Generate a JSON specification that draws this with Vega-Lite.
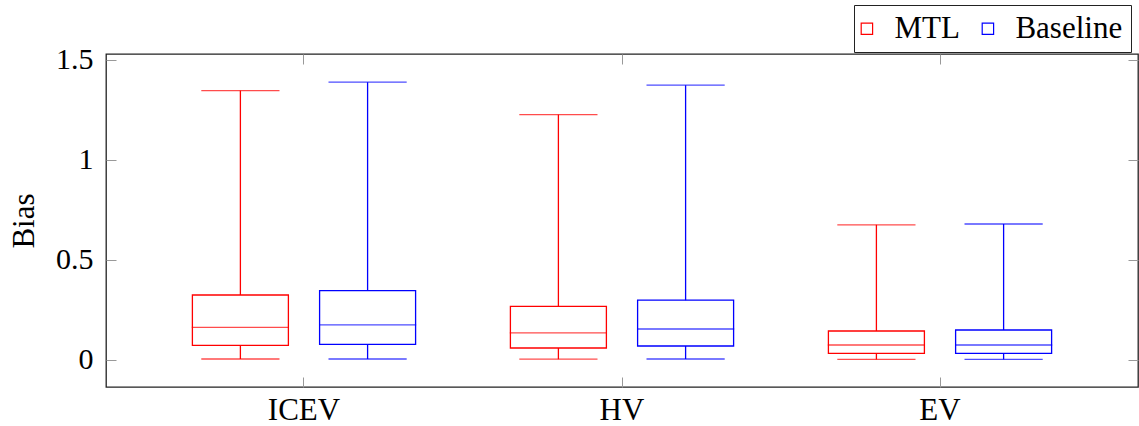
{
  "$schema": "https://vega.github.io/schema/vega-lite/v6.json",
  "width": 1032,
  "height": 333,
  "autosize": {"type": "none"},
  "padding": {"left": 106, "top": 54, "right": 1, "bottom": 39},
  "background": "white",
  "config": {
    "view": {"stroke": "#222", "strokeWidth": 1.3},
    "font": "Liberation Serif",
    "axis": {
      "domain": false,
      "grid": false,
      "ticks": true,
      "tickSize": -10,
      "tickColor": "#999",
      "tickWidth": 1,
      "labelFont": "Liberation Serif",
      "labelFontSize": 30,
      "labelColor": "#000",
      "titleFont": "Liberation Serif",
      "titleFontSize": 31,
      "titleFontWeight": "normal",
      "titleColor": "#000"
    },
    "legend": {
      "orient": "none",
      "legendX": 748,
      "legendY": -49,
      "direction": "horizontal",
      "title": null,
      "labelFont": "Liberation Serif",
      "labelFontSize": 31,
      "labelColor": "#000",
      "labelBaseline": "middle",
      "symbolType": "square",
      "symbolSize": 130,
      "symbolStrokeWidth": 1.2,
      "symbolFillColor": "white",
      "symbolOffset": -10.6,
      "labelOffset": 12,
      "columnPadding": 19,
      "padding": 8,
      "strokeColor": "#222",
      "fillColor": "white"
    }
  },
  "data": {
    "values": [
      {"cat": "ICEV", "series": "MTL", "min": 0.003, "q1": 0.071, "median": 0.161, "q3": 0.323, "max": 1.345},
      {"cat": "ICEV", "series": "Baseline", "min": 0.003, "q1": 0.076, "median": 0.174, "q3": 0.345, "max": 1.387},
      {"cat": "HV", "series": "MTL", "min": 0.002, "q1": 0.058, "median": 0.134, "q3": 0.266, "max": 1.225},
      {"cat": "HV", "series": "Baseline", "min": 0.003, "q1": 0.068, "median": 0.153, "q3": 0.297, "max": 1.372},
      {"cat": "EV", "series": "MTL", "min": 0.001, "q1": 0.031, "median": 0.073, "q3": 0.143, "max": 0.674},
      {"cat": "EV", "series": "Baseline", "min": 0.001, "q1": 0.031, "median": 0.073, "q3": 0.148, "max": 0.678}
    ]
  },
  "layer": [
    {
      "mark": {"type": "bar", "filled": false, "strokeWidth": 1.3, "width": 96},
      "encoding": {
        "x": {
          "field": "cat", "type": "nominal", "sort": ["ICEV", "HV", "EV"],
          "scale": {"paddingInner": 0.2, "paddingOuter": 0.2226},
          "axis": {"orient": "bottom", "title": null, "labelAngle": 0, "labelPadding": 42, "labelBaseline": "alphabetic", "labelFontSize": 31}
        },
        "xOffset": {
          "field": "series", "type": "nominal", "sort": ["MTL", "Baseline"],
          "scale": {"domain": ["MTL", "Baseline"], "paddingInner": 0, "paddingOuter": 0}
        },
        "y": {
          "field": "q1", "type": "quantitative",
          "scale": {"domain": [-0.137, 1.528], "nice": false, "zero": false},
          "axis": {"orient": "left", "values": [0, 0.5, 1, 1.5], "format": "~g", "labelPadding": 23, "title": "Bias", "titleX": -73, "titleY": 166.5, "titleAngle": -90, "titleBaseline": "alphabetic", "titleAlign": "center"}
        },
        "y2": {"field": "q3"},
        "color": {
          "field": "series", "type": "nominal",
          "scale": {"domain": ["MTL", "Baseline"], "range": ["#ff0000", "#0000ff"]}
        }
      }
    },
    {
      "mark": {"type": "rule", "strokeWidth": 1.3},
      "encoding": {
        "x": {"field": "cat", "type": "nominal", "sort": ["ICEV", "HV", "EV"], "axis": {"orient": "top", "labels": false, "title": null}},
        "xOffset": {"field": "series", "type": "nominal", "sort": ["MTL", "Baseline"]},
        "y": {"field": "min", "type": "quantitative", "axis": {"orient": "right", "labels": false, "title": null, "values": [0, 0.5, 1, 1.5]}},
        "y2": {"field": "q1"},
        "color": {"field": "series", "type": "nominal"}
      }
    },
    {
      "mark": {"type": "rule", "strokeWidth": 1.3},
      "encoding": {
        "x": {"field": "cat", "type": "nominal", "sort": ["ICEV", "HV", "EV"], "axis": null},
        "xOffset": {"field": "series", "type": "nominal", "sort": ["MTL", "Baseline"]},
        "y": {"field": "q3", "type": "quantitative", "axis": null},
        "y2": {"field": "max"},
        "color": {"field": "series", "type": "nominal"}
      }
    },
    {
      "mark": {"type": "tick", "size": 96, "thickness": 0.1, "filled": false, "strokeWidth": 1.2},
      "encoding": {
        "x": {"field": "cat", "type": "nominal", "sort": ["ICEV", "HV", "EV"], "axis": null},
        "xOffset": {"field": "series", "type": "nominal", "sort": ["MTL", "Baseline"]},
        "y": {"field": "median", "type": "quantitative", "axis": null},
        "color": {"field": "series", "type": "nominal"}
      }
    },
    {
      "mark": {"type": "tick", "size": 77, "thickness": 0.1, "filled": false, "strokeWidth": 1.2},
      "encoding": {
        "x": {"field": "cat", "type": "nominal", "sort": ["ICEV", "HV", "EV"], "axis": null},
        "xOffset": {"field": "series", "type": "nominal", "sort": ["MTL", "Baseline"]},
        "y": {"field": "min", "type": "quantitative", "axis": null},
        "color": {"field": "series", "type": "nominal"}
      }
    },
    {
      "mark": {"type": "tick", "size": 77, "thickness": 0.1, "filled": false, "strokeWidth": 1.2},
      "encoding": {
        "x": {"field": "cat", "type": "nominal", "sort": ["ICEV", "HV", "EV"], "axis": null},
        "xOffset": {"field": "series", "type": "nominal", "sort": ["MTL", "Baseline"]},
        "y": {"field": "max", "type": "quantitative", "axis": null},
        "color": {"field": "series", "type": "nominal"}
      }
    }
  ],
  "resolve": {"axis": {"x": "independent", "y": "independent"}}
}
